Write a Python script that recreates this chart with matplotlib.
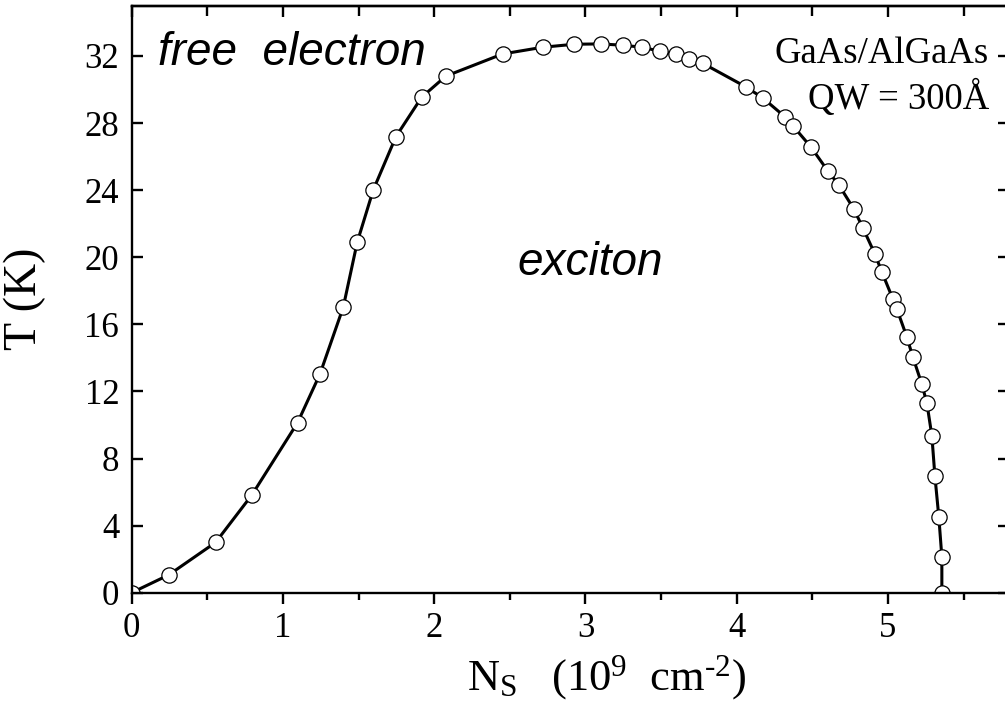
#!/usr/bin/env python
import numpy as np
import matplotlib
matplotlib.use("Agg")
import matplotlib.pyplot as plt
from matplotlib.ticker import MultipleLocator

# Phase boundary between free electron gas and exciton gas
ns = [0.0, 0.245, 0.555, 0.795, 1.097, 1.245, 1.399, 1.491, 1.597, 1.747,
      1.917, 2.077, 2.452, 2.716, 2.925, 3.100, 3.249, 3.377, 3.492, 3.597,
      3.685, 3.774, 4.060, 4.172, 4.318, 4.371, 4.490, 4.602, 4.675, 4.774,
      4.834, 4.913, 4.959, 5.032, 5.058, 5.124, 5.164, 5.223, 5.257, 5.290,
      5.310, 5.336, 5.356, 5.356]
temp = [0.0, 1.06, 3.00, 5.83, 10.14, 13.04, 17.03, 20.89, 24.01, 27.19,
        29.54, 30.80, 32.12, 32.52, 32.70, 32.72, 32.64, 32.52, 32.28, 32.10,
        31.83, 31.57, 30.16, 29.50, 28.38, 27.84, 26.58, 25.15, 24.31, 22.88,
        21.75, 20.20, 19.13, 17.52, 16.93, 15.26, 14.06, 12.45, 11.31, 9.35,
        6.96, 4.51, 2.13, 0.0]

xticks = [0, 1, 2, 3, 4, 5]
yticks = list(range(0, 33, 4))

if __name__ == "__main__":

	plt.rcParams['font.family'] = 'Liberation Serif'
	plt.rcParams['mathtext.fontset'] = 'custom'
	plt.rcParams['mathtext.rm'] = 'Liberation Serif'
	plt.rcParams['mathtext.it'] = 'Liberation Serif:italic'

	# Set up mpl figure (right spine sits just past the image edge, as in the original)
	fig = plt.figure(figsize=(10.05, 7.18), dpi=100)
	ax0 = fig.add_axes([0.131, 0.1745, 0.873, 0.8176])

	# Plot data
	ax0.plot(ns, temp, color='black', lw=2.2, marker='o', ms=11,
		mfc='white', mec='black', mew=0.9)

	ax0.set_xlim(0, 5.8)
	ax0.set_ylim(0, 35)
	ax0.set_xticks(xticks)
	ax0.set_yticks(yticks)
	ax0.xaxis.set_minor_locator(MultipleLocator(0.5))

	for s in ax0.spines.values():
		s.set_linewidth(1.7)

	ax0.tick_params(axis='x', which='major', direction='out', length=8, width=1.7,
		labelsize=25, pad=6)
	ax0.tick_params(axis='x', which='minor', direction='out', length=5, width=1.7)
	ax0.tick_params(axis='y', which='major', direction='in', length=8, width=1.7,
		labelsize=25, pad=9, right=True)

	# top axis ticks point inward
	top = ax0.secondary_xaxis('top')
	top.set_xticks(xticks)
	top.xaxis.set_minor_locator(MultipleLocator(0.5))
	top.tick_params(which='major', direction='in', length=8, width=1.7, labeltop=False)
	top.tick_params(which='minor', direction='in', length=7, width=1.7)
	top.spines['top'].set_linewidth(1.7)

	# Axes labels
	ax0.set_ylabel("T (K)", fontsize=33)
	ax0.yaxis.set_label_coords(-0.097, 0.5)
	ax0.set_xlabel(r"N$_{\rm S}$   (10$^{\rm 9}$  cm$^{\text{-2}}$)", fontsize=32)
	ax0.xaxis.set_label_coords(0.541, -0.104)

	# Region labels
	ax0.text(0.030, 0.899, "free  electron", transform=ax0.transAxes,
		fontsize=33, style='italic', family='Liberation Sans', va='baseline')
	ax0.text(0.440, 0.541, "exciton", transform=ax0.transAxes,
		fontsize=33, style='italic', family='Liberation Sans', va='baseline')
	ax0.text(0.977, 0.902, "GaAs/AlGaAs", transform=ax0.transAxes,
		fontsize=26.5, ha='right', va='baseline')
	ax0.text(0.978, 0.824, "QW = 300Å", transform=ax0.transAxes,
		fontsize=26.5, ha='right', va='baseline')

	fig.savefig("out.png", dpi=100)
